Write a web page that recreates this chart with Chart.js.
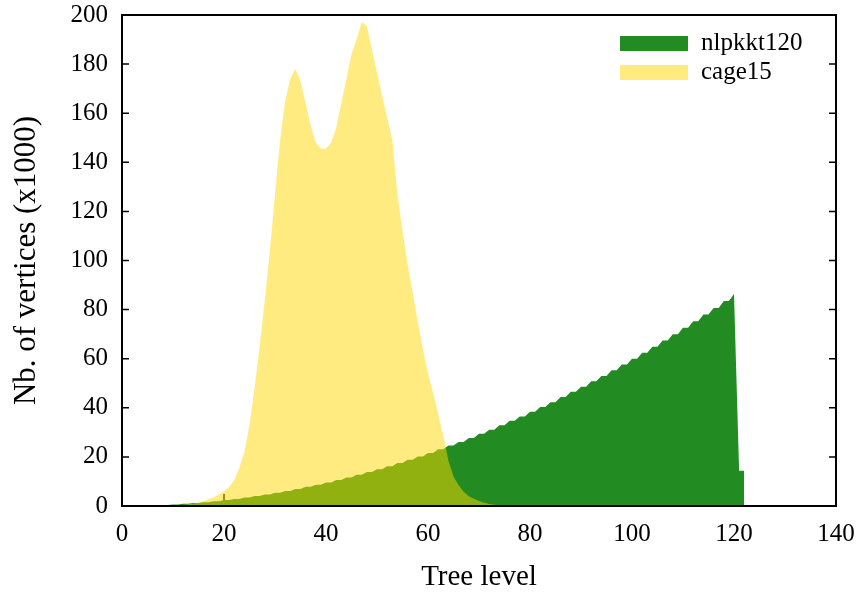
<!DOCTYPE html>
<html>
<head>
<meta charset="utf-8">
<script src="https://cdn.jsdelivr.net/npm/chart.js@4.4.0/dist/chart.umd.min.js"></script>
<style>
html, body { margin: 0; padding: 0; background: #fff; }
</style>
</head>
<body>
<canvas id="myChart" width="856" height="595"></canvas>
<script>
const seriesNames = ["nlpkkt120", "cage15"];
const seriesColors = ["#228b22", "rgba(255,215,0,0.5)"];

// nb. of vertices (x1000) per tree level, level = index
const nlpkktValues = [
  0, 0, 0, 0, 0, 0, 0.1, 0.1, 0.4, 0.4,
  0.6, 0.6, 0.9, 0.9, 1.2, 1.2, 1.5, 1.5, 1.9, 1.9,
  2.4, 2.4, 2.9, 2.9, 3.5, 3.5, 4.1, 4.1, 4.7, 4.7,
  5.4, 5.4, 6.1, 6.1, 6.9, 6.9, 7.8, 7.8, 8.7, 8.7,
  9.6, 9.6, 10.6, 10.6, 11.6, 11.6, 12.7, 12.7, 13.8, 13.8,
  15.0, 15.0, 16.2, 16.2, 17.5, 17.5, 18.8, 18.8, 20.2, 20.2,
  21.6, 21.6, 23.1, 23.1, 24.6, 24.6, 26.1, 26.1, 27.7, 27.7,
  29.4, 29.4, 31.1, 31.1, 32.9, 32.9, 34.7, 34.7, 36.5, 36.5,
  38.4, 38.4, 40.3, 40.3, 42.3, 42.3, 44.4, 44.4, 46.5, 46.5,
  48.6, 48.6, 50.8, 50.8, 53.0, 53.0, 55.3, 55.3, 57.6, 57.6,
  60.0, 60.0, 62.4, 62.4, 64.9, 64.9, 67.4, 67.4, 70.0, 70.0,
  72.6, 72.6, 75.3, 75.3, 78.0, 78.0, 80.7, 80.7, 83.5, 83.5,
  86.4, 14.4, 14.4
];
const cageValues = [
  0, 0, 0, 0, 0, 0, 0, 0, 0, 0.1,
  0.2, 0.3, 0.5, 0.7, 1.0, 1.4, 2.0, 2.7, 3.6, 4.7,
  6.0, 7.8, 10.5, 15.5, 22, 33, 48, 65, 84, 104,
  127, 149, 165, 174, 178, 173, 164, 155, 148, 145.5,
  145.5, 148, 154, 164, 174, 184, 190, 197, 195.5, 186,
  176.5, 167, 158, 149, 127, 112, 98.5, 87, 75, 64,
  54, 46, 37.5, 28.5, 18.5, 12, 8.5, 5.8, 4.0, 3.0,
  2.0, 1.3, 0.8, 0.5, 0.3, 0.2, 0.1, 0.1, 0, 0,
  0
];
const xRange = [0, 140];
const yRange = [0, 200];

const serif = "'Liberation Serif', 'Times New Roman', serif";

const frame = {
  id: "frame",
  beforeDatasetsDraw(chart) {
    const {ctx, chartArea: a, scales: {x, y}} = chart;
    ctx.save();
    ctx.strokeStyle = "#000";
    ctx.lineWidth = 1.5;
    ctx.beginPath();
    x.ticks.forEach(t => {
      const px = x.getPixelForValue(t.value);
      ctx.moveTo(px, a.bottom);
      ctx.lineTo(px, a.bottom - 12);
    });
    y.ticks.forEach(t => {
      const py = y.getPixelForValue(t.value);
      ctx.moveTo(a.left, py);
      ctx.lineTo(a.left + 7, py);
      ctx.moveTo(a.right, py);
      ctx.lineTo(a.right - 7, py);
    });
    ctx.stroke();
    ctx.restore();
  },
  afterDatasetsDraw(chart) {
    const {ctx, chartArea: a} = chart;
    ctx.save();
    ctx.strokeStyle = "#000";
    ctx.lineWidth = 2;
    ctx.strokeRect(a.left, a.top, a.right - a.left, a.bottom - a.top);
    // key
    ctx.font = "25px " + serif;
    ctx.textBaseline = "middle";
    seriesNames.forEach((name, i) => {
      const yy = 43 + i * 29;
      ctx.fillStyle = seriesColors[i];
      ctx.fillRect(620, yy - 7, 68, 15);
      ctx.fillStyle = "#000";
      ctx.fillText(name, 701, yy);
    });
    ctx.restore();
  }
};

new Chart("myChart", {
  type: "line",
  data: {
    datasets: [{
      label: seriesNames[0],
      data: nlpkktValues.map((v, i) => ({x: i, y: v})),
      backgroundColor: seriesColors[0],
      borderWidth: 0,
      pointRadius: 0,
      fill: "origin",
      order: 2
    }, {
      label: seriesNames[1],
      data: cageValues.map((v, i) => ({x: i, y: v})),
      backgroundColor: seriesColors[1],
      borderWidth: 0,
      pointRadius: 0,
      fill: "origin",
      order: 1
    }]
  },
  options: {
    responsive: false,
    animation: false,
    layout: { padding: { top: 15, right: 20, left: 0, bottom: 0 } },
    plugins: { legend: { display: false }, tooltip: { enabled: false } },
    scales: {
      x: {
        type: "linear",
        min: xRange[0],
        max: xRange[1],
        grid: { display: false, drawTicks: false },
        border: { display: false },
        ticks: { stepSize: 20, color: "#000", padding: 13, font: { family: serif, size: 25 } },
        title: { display: true, text: "Tree level", color: "#000", padding: { top: 0, bottom: 0 }, font: { family: serif, size: 29 } },
        afterFit(s) { s.height = 89; s.paddingLeft = 0; s.paddingRight = 0; }
      },
      y: {
        min: yRange[0],
        max: yRange[1],
        grid: { display: false, drawTicks: false },
        border: { display: false },
        ticks: { stepSize: 20, color: "#000", padding: 14, font: { family: serif, size: 25 } },
        title: { display: true, text: "Nb. of vertices (x1000)", color: "#000", padding: { top: 8, bottom: 0 }, font: { family: serif, size: 31 } },
        afterFit(s) { s.width = 122; s.paddingTop = 0; s.paddingBottom = 0; }
      }
    }
  },
  plugins: [frame]
});
</script>
</body>
</html>
